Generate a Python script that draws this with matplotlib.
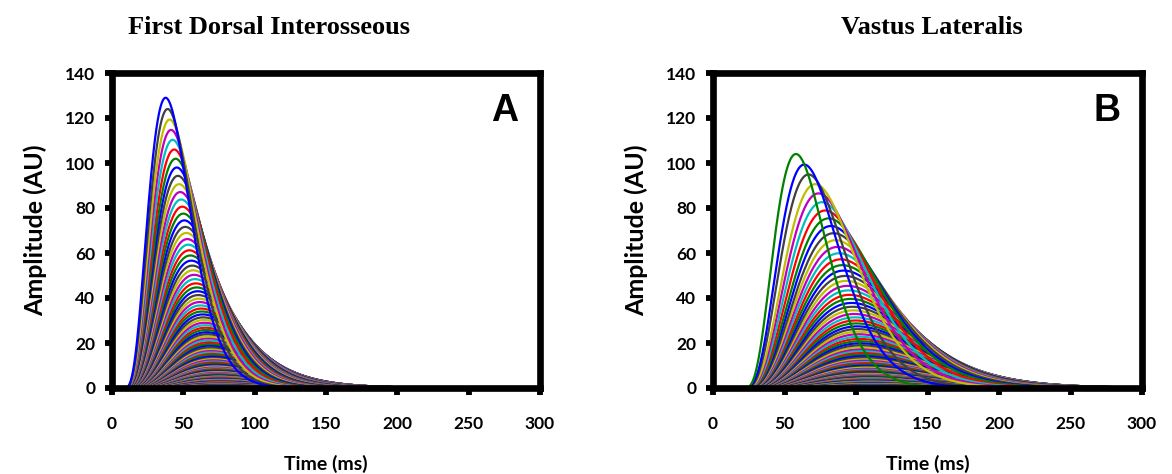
import numpy as np
import matplotlib
matplotlib.use("Agg")
import matplotlib.pyplot as plt
from matplotlib.font_manager import FontProperties
from cycler import cycler

# ---------------------------------------------------------------------------
# Motor-unit twitch profiles, largest unit first.
# peak = peak twitch amplitude (AU), ttp = time to peak after onset (ms)
# ---------------------------------------------------------------------------
fdi_onset = 8.0
fdi_peak = [
    129.0, 124.0, 119.3, 114.7, 110.3, 106.0, 101.9, 98.0, 94.3, 90.6,
    87.1, 83.8, 80.6, 77.5, 74.5, 71.6, 68.9, 66.2, 63.7, 61.2,
    58.9, 56.6, 54.4, 52.3, 50.3, 48.4, 46.5, 44.7, 43.0, 41.3,
    39.7, 38.2, 36.7, 35.3, 34.0, 32.7, 31.4, 30.2, 29.0, 27.9,
    26.8, 25.8, 24.8, 23.9, 22.9, 22.1, 21.2, 20.4, 19.6, 18.9,
    18.1, 17.4, 16.8, 16.1, 15.5, 14.9, 14.3, 13.8, 13.3, 12.7,
    12.3, 11.8, 11.3, 10.9, 10.5, 10.1, 9.7, 9.3, 8.9, 8.6,
    8.3, 8.0, 7.7, 7.4, 7.1, 6.8, 6.5, 6.3, 6.0, 5.8,
    5.6, 5.4, 5.2, 5.0, 4.8, 4.6, 4.4, 4.3, 4.1, 3.9,
    3.8, 3.6, 3.5, 3.4, 3.2, 3.1, 3.0, 2.9, 2.8, 2.7,
    2.6, 2.5, 2.4, 2.3, 2.2, 2.1, 2.0, 1.9, 1.9, 1.8,
    1.7, 1.7, 1.6, 1.5, 1.5, 1.4, 1.4, 1.3, 1.3, 1.2,
]
fdi_ttp = [
    29.6, 31.0, 32.4, 33.4, 34.5, 35.6, 36.6, 37.4, 38.2, 39.0,
    39.8, 40.5, 41.3, 42.0, 42.7, 43.4, 44.1, 44.8, 45.5, 46.2,
    46.9, 47.6, 48.3, 48.9, 49.6, 50.2, 50.8, 51.4, 52.0, 52.5,
    53.0, 53.6, 54.1, 54.6, 55.1, 55.6, 56.0, 56.5, 56.9, 57.3,
    57.7, 58.1, 58.5, 58.9, 59.2, 59.6, 59.9, 60.3, 60.6, 60.9,
    61.2, 61.5, 61.8, 62.1, 62.3, 62.6, 62.8, 63.1, 63.3, 63.5,
    63.7, 64.0, 64.2, 64.4, 64.6, 64.7, 64.9, 65.1, 65.3, 65.4,
    65.6, 65.7, 65.9, 66.0, 66.2, 66.3, 66.4, 66.6, 66.7, 66.8,
    66.9, 67.0, 67.1, 67.2, 67.3, 67.4, 67.5, 67.6, 67.7, 67.8,
    67.8, 67.9, 68.0, 68.1, 68.1, 68.2, 68.3, 68.3, 68.4, 68.4,
    68.5, 68.5, 68.6, 68.6, 68.7, 68.7, 68.8, 68.8, 68.9, 68.9,
    68.9, 69.0, 69.0, 69.0, 69.1, 69.1, 69.1, 69.2, 69.2, 69.2,
]

vl_onset = 21.0
vl_peak = [
    104.0, 99.3, 94.9, 90.6, 86.5, 82.6, 78.9, 75.4, 72.0, 68.8,
    65.7, 62.7, 59.9, 57.2, 54.6, 52.2, 49.8, 47.6, 45.4, 43.4,
    41.4, 39.6, 37.8, 36.1, 34.5, 32.9, 31.4, 30.0, 28.7, 27.4,
    26.2, 25.0, 23.9, 22.8, 21.8, 20.8, 19.9, 19.0, 18.1, 17.3,
    16.5, 15.8, 15.1, 14.4, 13.7, 13.1, 12.5, 12.0, 11.4, 10.9,
    10.4, 10.0, 9.5, 9.1, 8.7, 8.3, 7.9, 7.6, 7.2, 6.9,
    6.6, 6.3, 6.0, 5.7, 5.5, 5.2, 5.0, 4.8, 4.6, 4.4,
    4.2, 4.0, 3.8, 3.6, 3.5, 3.3, 3.2, 3.0, 2.9, 2.8,
    2.6, 2.5, 2.4, 2.3, 2.2, 2.1, 2.0, 1.9, 1.8, 1.7,
    1.7, 1.6, 1.5, 1.5, 1.4, 1.3, 1.3, 1.2, 1.2, 1.1,
]
vl_ttp = [
    37.0, 42.8, 45.8, 50.5, 52.8, 55.2, 57.5, 59.9, 61.5, 63.4,
    64.8, 66.1, 67.3, 68.4, 69.5, 70.5, 71.4, 72.3, 73.1, 73.9,
    74.6, 75.3, 76.0, 76.6, 77.2, 77.8, 78.3, 78.8, 79.3, 79.8,
    80.2, 80.6, 81.0, 81.4, 81.8, 82.1, 82.5, 82.8, 83.1, 83.4,
    83.7, 84.0, 84.3, 84.5, 84.8, 85.0, 85.3, 85.5, 85.7, 85.9,
    86.1, 86.3, 86.5, 86.7, 86.9, 87.1, 87.2, 87.4, 87.6, 87.7,
    87.9, 88.0, 88.2, 88.3, 88.4, 88.6, 88.7, 88.8, 88.9, 89.0,
    89.2, 89.3, 89.4, 89.5, 89.6, 89.7, 89.8, 89.9, 90.0, 90.0,
    90.1, 90.2, 90.3, 90.4, 90.4, 90.5, 90.6, 90.6, 90.7, 90.8,
    90.8, 90.9, 90.9, 91.0, 91.0, 91.1, 91.1, 91.2, 91.2, 91.3,
]

x_ticks = [0, 50, 100, 150, 200, 250, 300]
y_ticks = [0, 20, 40, 60, 80, 100, 120, 140]
panel_titles = ["First Dorsal Interosseous", "Vastus Lateralis"]
panel_letters = ["A", "B"]
x_label = "Time (ms)"
y_label = "Amplitude (AU)"

TWITCH_ORDER = 4
line_colors = ["#0000ff", "#008000", "#ff0000", "#00bfbf",
               "#bf00bf", "#bfbf00", "#404040"]


def twitch(t, peak, ttp, onset, order=TWITCH_ORDER):
    """Smooth twitch: zero before onset, maximum `peak` at onset + ttp."""
    s = np.clip((t - onset) / ttp, 0.0, None)
    return peak * s ** order * np.exp(order * (1.0 - s))


t = np.linspace(0, 300, 1201)

W, H = 1172, 474
fig = plt.figure(figsize=(W / 100, H / 100), dpi=100)
ax_a = fig.add_axes([112 / W, 1 - 388 / H, 428 / W, 315 / H])
ax_b = fig.add_axes([713 / W, 1 - 388 / H, 429 / W, 315 / H])

tick_font = FontProperties(family="Lato", weight="bold", size=12.5)
panels = [
    (ax_a, fdi_peak, fdi_ttp, fdi_onset, 0.367),
    (ax_b, vl_peak, vl_ttp, vl_onset, 0.51),
]

for i, (ax, peaks, ttps, onset, title_x) in enumerate(panels):
    ax.set_prop_cycle(cycler(color=line_colors))
    # smallest units first so the largest twitches sit on top
    for p, tp in zip(peaks[::-1], ttps[::-1]):
        ax.plot(t, twitch(t, p, tp, onset), lw=1.6, solid_capstyle="round")

    ax.set_xlim(0, 300)
    ax.set_ylim(0, 140)
    ax.set_xticks(x_ticks)
    ax.set_yticks(y_ticks)
    for lab in ax.get_xticklabels() + ax.get_yticklabels():
        lab.set_fontproperties(tick_font)
    ax.tick_params(axis="both", direction="out", length=5, width=4.2,
                   color="black")
    ax.tick_params(axis="x", pad=15)
    ax.tick_params(axis="y", pad=7)
    for sp in ax.spines.values():
        sp.set_linewidth(4.8)
        sp.set_color("black")

    ax.set_xlabel(x_label, family="Lato", weight="bold", size=14)
    ax.xaxis.set_label_coords(0.5, -0.241)
    ax.xaxis.label.set_va("center")
    ax.set_ylabel(y_label, family="Lato", weight="bold", size=18)
    ax.yaxis.set_label_coords(-0.178, 0.5)
    ax.yaxis.label.set_va("center")

    ax.text(title_x, 1.146, panel_titles[i], transform=ax.transAxes,
            ha="center", va="center", family="Liberation Serif",
            weight="bold", size=19)
    ax.text(0.918, 0.879, panel_letters[i], transform=ax.transAxes,
            ha="center", va="center", family="Liberation Sans",
            weight="bold", size=27)

fig.savefig("out.png", dpi=100)
